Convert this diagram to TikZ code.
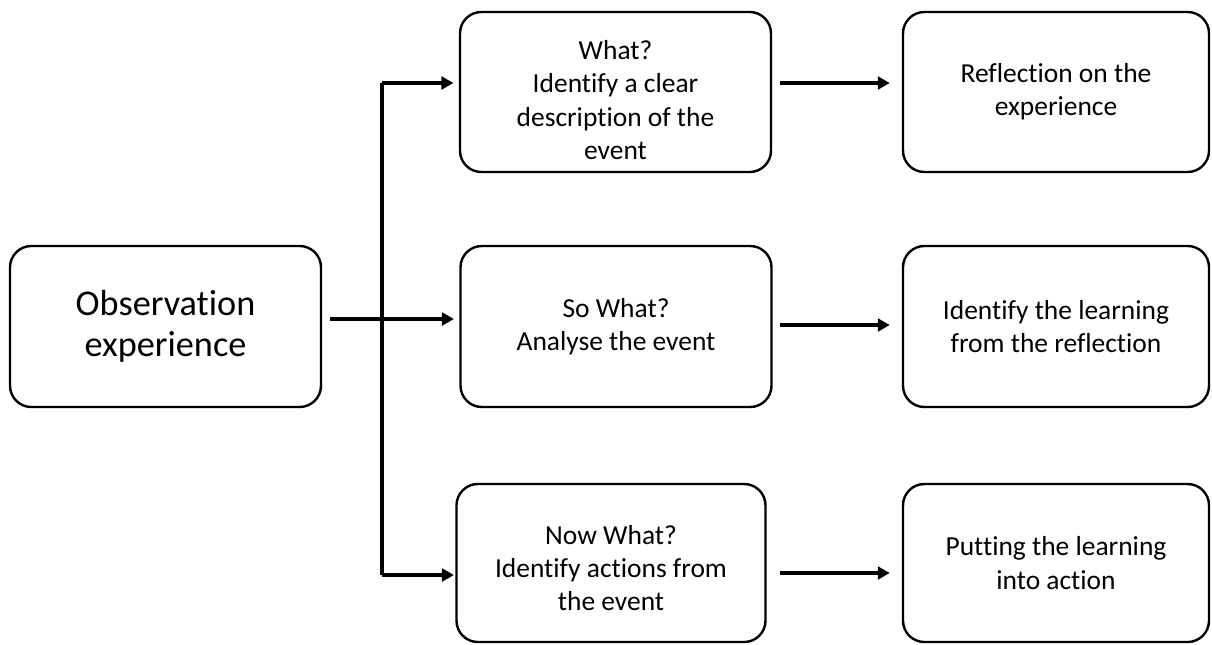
\documentclass[tikz,border=0pt]{standalone}
\usepackage{fontspec}
\setmainfont[Ligatures=CommonOff]{Carlito}
\usetikzlibrary{arrows.meta}
\begin{document}
\begin{tikzpicture}[x=0.75pt,y=-0.75pt,
  txt/.style={align=center,inner sep=0pt,font=\fontsize{20.6pt}{24.9pt}\selectfont},
  box/.style={draw=black,line width=1.8pt,rounded corners=16pt,txt},
  arr/.style={line width=3pt,-{Triangle[length=9pt,width=9.5pt]}},
  ln/.style={line width=3pt}]
\useasboundingbox (0,0) rectangle (1212,644);
\node[box,minimum width=311*0.75pt,minimum height=161*0.75pt,
  font=\fontsize{27.2pt}{30.75pt}\selectfont] (L) at (165.5,326.5) {Observation\\experience};
\node[box,minimum width=311*0.75pt,minimum height=160*0.75pt] (M1) at (615.5,92) {};
\node[txt] (M1t) at ([yshift=-6pt]M1.center) {What?\\Identify a clear\\description of the\\event};
\node[box,minimum width=311*0.75pt,minimum height=161*0.75pt] (M2) at (616,326.5) {So What?\\Analyse the event};
\node[box,minimum width=309*0.75pt,minimum height=158*0.75pt] (M3) at (611,563) {};
\node[txt] (M3t) at ([yshift=-4pt]M3.center) {Now What?\\Identify actions from\\the event};
\node[box,minimum width=306*0.75pt,minimum height=160*0.75pt] (R1) at (1056,92) {Reflection on the\\experience};
\node[box,minimum width=306*0.75pt,minimum height=161*0.75pt] (R2) at (1056,326.5) {Identify the learning\\from the reflection};
\node[box,minimum width=306*0.75pt,minimum height=158*0.75pt] (R3) at (1056,563) {Putting the learning\\into action};
% connectors
\coordinate (s) at (330,319);
\coordinate (ft) at (382,83);
\coordinate (fb) at (382,575);
\draw[arr,shorten >=4pt] (s) -- (M2.west |- s);
\draw[ln] (ft) -- (fb);
\draw[arr,shorten >=4pt] (ft) -- (M1.west |- ft);
\draw[arr,shorten >=1pt] (fb) -- (M3.west |- fb);
\coordinate (a1) at (780,83);
\coordinate (a2) at (780,325);
\coordinate (a3) at (780,573);
\draw[arr,shorten >=9pt] (a1) -- (R1.west |- a1);
\draw[arr,shorten >=9pt] (a2) -- (R2.west |- a2);
\draw[arr,shorten >=9pt] (a3) -- (R3.west |- a3);
\end{tikzpicture}
\end{document}
